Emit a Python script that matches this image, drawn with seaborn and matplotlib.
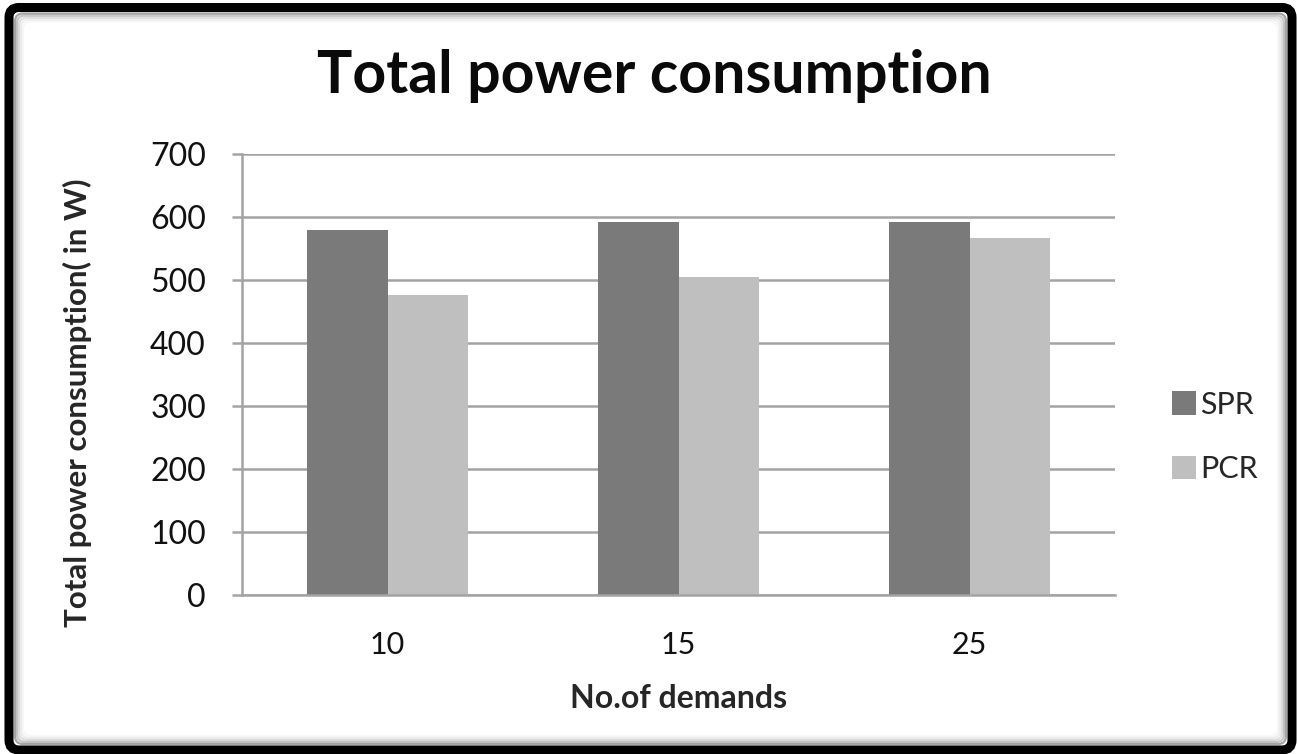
import matplotlib
matplotlib.use("Agg")
import matplotlib.pyplot as plt
from matplotlib.patches import FancyBboxPatch
import pandas as pd
import seaborn as sns

# Chart data
demands = ["10", "15", "25"]
spr = [580, 592, 592]
pcr = [476, 504, 566]
series_names = ["SPR", "PCR"]
y_ticks = [0, 100, 200, 300, 400, 500, 600, 700]

df = pd.DataFrame({
    "demands": demands * 2,
    "power": spr + pcr,
    "method": [series_names[0]] * len(demands) + [series_names[1]] * len(demands),
})

sns.set_theme(style="white")
plt.rcParams["font.family"] = ["Lato", "DejaVu Sans"]

W, H, DPI = 1297, 754, 100
fig = plt.figure(figsize=(W / DPI, H / DPI), dpi=DPI)
fig.patch.set_facecolor("white")

ax = fig.add_axes([242 / W, 1 - 595 / H, (1115 - 242) / W, (595 - 154) / H])

palette = {"SPR": "#7a7a7a", "PCR": "#bfbfbf"}
sns.barplot(data=df, x="demands", y="power", hue="method", order=demands,
            hue_order=series_names, palette=palette, width=0.55, gap=0,
            saturation=1, linewidth=0, ax=ax, legend=True)

grid_col = "#a3a3a3"
ax.set_ylim(0, 700)
ax.set_yticks(y_ticks)
ax.set_yticklabels([str(v) for v in y_ticks], fontsize=23, color="#111111")
ax.set_xticks(range(len(demands)))
ax.set_xticklabels(demands, fontsize=22, color="#111111")
ax.yaxis.grid(True, color=grid_col, linewidth=1.8)
ax.xaxis.grid(False)
ax.set_axisbelow(True)
for s in ["top", "right"]:
    ax.spines[s].set_visible(False)
for s in ["left", "bottom"]:
    ax.spines[s].set_color(grid_col)
    ax.spines[s].set_linewidth(1.8)
ax.tick_params(axis="y", which="major", left=True, length=7, width=1.8,
               color=grid_col, pad=19)
ax.tick_params(axis="x", which="major", bottom=False, pad=20)

ax.set_xlabel("No.of demands", fontsize=23, fontweight="bold", labelpad=18)
ax.set_ylabel("Total power consumption( in W)", fontsize=22.5, fontweight="bold")
ax.yaxis.set_label_coords(-0.172, 0.435)

fig.text(654 / W, 1 - 76 / H, "Total power consumption", ha="center",
         va="center", fontsize=42.5, fontweight="bold", color="#0a0a0a")

leg = ax.legend(loc="center left", bbox_to_anchor=(1144 / W, 1 - 437 / H),
                bbox_transform=fig.transFigure, frameon=False, fontsize=22,
                handlelength=0.8, handleheight=0.8, handletextpad=0.15,
                labelspacing=1.2)
for h in leg.legend_handles:
    h.set_edgecolor("none")

# Rounded black frame with a soft inner shadow
x0, x1 = 9 / DPI, 1292 / DPI
y0, y1 = 4 / DPI, (H - 7.5) / DPI
for i, a in enumerate([0.35, 0.22, 0.13, 0.07, 0.03]):
    inset = (6 + 2 * i) / DPI
    fig.add_artist(FancyBboxPatch(
        (x0 + inset, y0 + inset), (x1 - x0) - 2 * inset, (y1 - y0) - 2 * inset,
        boxstyle="round,pad=0,rounding_size=0.08", transform=fig.dpi_scale_trans,
        facecolor="none", edgecolor="black", alpha=a, linewidth=1.6))
fig.add_artist(FancyBboxPatch(
    (x0, y0), x1 - x0, y1 - y0,
    boxstyle="round,pad=0,rounding_size=0.1", transform=fig.dpi_scale_trans,
    facecolor="none", edgecolor="black", linewidth=6.5))

fig.savefig("out.png", dpi=DPI, facecolor="white")
